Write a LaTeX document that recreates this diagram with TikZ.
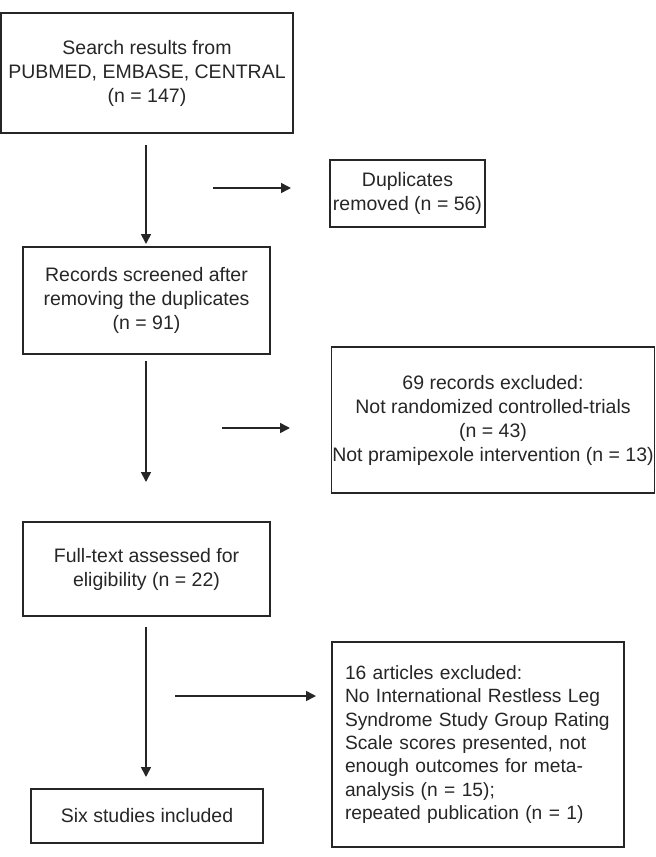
\documentclass[tikz,border=0pt]{standalone}
\usepackage{fontspec}
\setmainfont{Liberation Sans}
\usetikzlibrary{arrows.meta}
\definecolor{ink}{HTML}{262626}
\tikzset{
  box/.style={draw=ink, line width=1.2pt, text=ink, align=center, inner sep=0pt, font=\fontsize{19.5}{24}\selectfont},
  arr/.style={draw=ink, line width=1.6pt, -{Triangle[length=10pt,width=10pt]}}
}
\begin{document}
\begin{tikzpicture}[x=1pt,y=-1pt]
\useasboundingbox (0,0) rectangle (656,857);
\node[box, minimum width=292pt, minimum height=120pt] (b1) at (147,73) {Search results from\\PUBMED, EMBASE, CENTRAL\\(n = 147)};
\node[box, minimum width=155pt, minimum height=67pt] (dup) at (407.5,193.5) {Duplicates\\removed (n = 56)};
\node[box, minimum width=247pt, minimum height=107pt] (b2) at (146.5,300.5) {Records screened after\\removing the duplicates\\(n = 91)};
\node[box, minimum width=323pt, minimum height=146pt] (ex1) at (493,420) {69 records excluded:\\Not randomized controlled-trials\\(n = 43)\\Not pramipexole intervention (n = 13)};
\node[box, minimum width=247pt, minimum height=94pt] (b3) at (146.5,569) {Full-text assessed for\\eligibility (n = 22)};
\node[box, minimum width=232pt, minimum height=54pt] (b4) at (147,816) {Six studies included};
\node[box, minimum width=292pt, minimum height=205pt, align=left, text width=266pt, font=\fontsize{19.2}{23.4}\selectfont] (ex2) at (478,744.5) {\hyphenpenalty=10000 16 articles excluded:\\No International Restless Leg\\Syndrome Study Group Rating\\Scale scores presented, not\\enough outcomes for meta-\\analysis (n = 15);\\repeated publication (n = 1)};
% arrow endpoints
\coordinate (a1s) at (146,145);
\coordinate (a1e) at (146,244);
\coordinate (a2s) at (146,361);
\coordinate (a2e) at (146,482);
\coordinate (a3s) at (146,627);
\coordinate (a3e) at (146,777);
\coordinate (r1s) at (213,188);
\coordinate (r1e) at (291,188);
\coordinate (r2s) at (222,428);
\coordinate (r2e) at (290,428);
\coordinate (r3s) at (175,696);
\coordinate (r3e) at (316,696);
\draw[arr] (a1s) -- (a1e);
\draw[arr] (a2s) -- (a2e);
\draw[arr] (a3s) -- (a3e);
\draw[arr] (r1s) -- (r1e);
\draw[arr] (r2s) -- (r2e);
\draw[arr] (r3s) -- (r3e);
\end{tikzpicture}
\end{document}
